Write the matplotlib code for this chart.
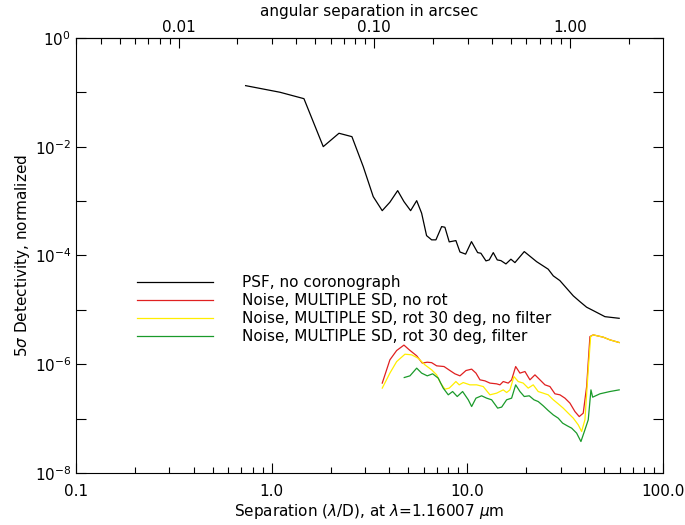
import matplotlib.pyplot as plt
import numpy as np
from matplotlib.ticker import FixedLocator, FuncFormatter, LogLocator, NullFormatter, FormatStrFormatter

# PSF, no coronograph
psf_sep = [0.736, 1.103, 1.462, 1.835, 2.208, 2.571, 2.938, 3.304, 3.673, 4.02,
           4.405, 4.743, 5.13, 5.51, 5.84, 6.19, 6.57, 6.91, 7.39, 7.68,
           8.08, 8.74, 9.17, 9.80, 10.5, 11.29, 11.73, 12.45, 12.94, 13.57,
           14.22, 14.85, 15.75, 16.70, 17.51, 19.54, 22.6, 25.9, 27.5, 29.7,
           34.8, 37.6, 40.7, 44.0, 50.5, 59.7]
psf_det = [0.133, 0.1005, 0.0766, 0.01005, 0.0177, 0.01534, 0.00431, 0.00121, 6.68e-4, 9.55e-4,
           1.56e-3, 9.8e-4, 6.68e-4, 1.02e-3, 6.0e-4, 2.32e-4, 1.94e-4, 1.94e-4, 3.40e-4, 3.31e-4,
           1.78e-4, 1.88e-4, 1.16e-4, 1.06e-4, 1.80e-4, 1.13e-4, 1.10e-4, 7.96e-5, 8.3e-5, 1.13e-4,
           8.3e-5, 8.05e-5, 7.0e-5, 8.55e-5, 7.4e-5, 1.18e-4, 7.7e-5, 5.6e-5, 4.22e-5, 3.46e-5,
           1.81e-5, 1.42e-5, 1.12e-5, 9.7e-6, 7.5e-6, 7.0e-6]

# Noise, MULTIPLE SD, no rot
red_sep = [3.674, 4.02, 4.353, 4.743, 5.05, 5.51, 5.885, 6.24, 6.57, 6.97,
           7.60, 8.15, 8.64, 9.17, 9.84, 10.52, 11.07, 11.60, 12.30, 13.05,
           14.12, 14.68, 15.26, 16.18, 16.84, 17.66, 18.57, 19.70, 20.89, 22.16,
           23.50, 24.93, 26.43, 28.04, 29.73, 31.54, 33.44, 35.47, 37.32, 39.11,
           40.71, 42.32, 43.99, 49.48, 53.54, 59.72]
red_det = [4.50e-7, 1.205e-6, 1.79e-6, 2.25e-6, 1.84e-6, 1.43e-6, 1.05e-6, 1.09e-6, 1.07e-6, 9.35e-7,
           9.08e-7, 7.66e-7, 6.67e-7, 6.12e-7, 7.66e-7, 8.13e-7, 6.87e-7, 5.17e-7, 4.95e-7, 4.50e-7,
           4.36e-7, 4.18e-7, 4.81e-7, 4.50e-7, 5.17e-7, 9.08e-7, 6.87e-7, 7.35e-7, 5.17e-7, 6.38e-7,
           5.17e-7, 4.18e-7, 3.89e-7, 2.86e-7, 2.74e-7, 2.38e-7, 1.93e-7, 1.35e-7, 1.09e-7, 1.26e-7,
           3.89e-7, 3.23e-6, 3.47e-6, 3.15e-6, 2.81e-6, 2.51e-6]

# Noise, MULTIPLE SD, rot 30 deg, no filter
yel_sep = [3.674, 4.02, 4.353, 4.80, 5.19, 5.61, 6.07, 6.57, 6.97, 7.30,
           7.68, 8.08, 8.41, 8.74, 9.09, 9.53, 10.31, 11.16, 12.06, 13.05,
           14.12, 15.26, 15.88, 16.51, 17.30, 18.20, 19.30, 20.47, 21.71, 23.03,
           24.43, 25.9, 27.5, 29.14, 30.90, 32.78, 34.8, 36.88, 38.38, 39.90,
           41.49, 42.68, 43.99, 49.48, 53.54, 59.72]
yel_det = [3.64e-7, 6.87e-7, 1.12e-6, 1.53e-6, 1.49e-6, 1.29e-6, 9.75e-7, 7.89e-7, 6.38e-7, 4.50e-7,
           3.48e-7, 3.64e-7, 4.18e-7, 4.81e-7, 4.18e-7, 4.61e-7, 4.18e-7, 4.18e-7, 3.89e-7, 2.74e-7,
           2.94e-7, 3.38e-7, 3.02e-7, 3.38e-7, 5.94e-7, 4.81e-7, 4.50e-7, 3.64e-7, 4.18e-7, 3.15e-7,
           2.94e-7, 2.74e-7, 2.22e-7, 1.87e-7, 1.56e-7, 1.26e-7, 1.02e-7, 7.69e-8, 5.80e-8, 9.51e-8,
           7.89e-7, 3.23e-6, 3.47e-6, 3.15e-6, 2.81e-6, 2.51e-6]

# Noise, MULTIPLE SD, rot 30 deg, filter
grn_sep = [4.76, 5.09, 5.51, 5.84, 6.24, 6.65, 7.10, 7.53, 7.99, 8.41,
           8.88, 9.46, 10.11, 10.52, 11.07, 11.83, 12.55, 13.31, 14.29, 14.98,
           15.88, 16.84, 17.66, 18.57, 19.54, 20.72, 21.90, 23.03, 24.43, 25.9,
           27.5, 29.14, 30.69, 32.40, 34.13, 36.19, 38.07, 39.90, 41.49, 42.83,
           43.70, 47.61, 53.54, 59.72]
grn_det = [5.70e-7, 6.12e-7, 8.48e-7, 6.87e-7, 6.12e-7, 6.67e-7, 5.55e-7, 3.64e-7, 2.74e-7, 3.15e-7,
           2.55e-7, 3.15e-7, 2.22e-7, 1.67e-7, 2.38e-7, 2.63e-7, 2.38e-7, 2.22e-7, 1.56e-7, 1.63e-7,
           2.22e-7, 2.38e-7, 4.18e-7, 3.15e-7, 2.55e-7, 2.63e-7, 2.22e-7, 2.06e-7, 1.72e-7, 1.41e-7,
           1.17e-7, 1.02e-7, 8.26e-8, 7.38e-8, 6.68e-8, 5.41e-8, 3.79e-8, 6.22e-8, 9.51e-8, 3.38e-7,
           2.48e-7, 2.86e-7, 3.15e-7, 3.38e-7]

labels = ["PSF, no coronograph",
          "Noise, MULTIPLE SD, no rot",
          "Noise, MULTIPLE SD, rot 30 deg, no filter",
          "Noise, MULTIPLE SD, rot 30 deg, filter"]

wavelength = 1.16007e-6  # m
diameter = 8.0  # m
lamd_arcsec = wavelength / diameter * 206264.8

plt.rcParams['font.family'] = ['DejaVu Sans']
plt.rcParams['mathtext.fontset'] = 'dejavusans'

fig = plt.figure(figsize=(6.85, 5.25), dpi=100)
ax = fig.add_axes([76 / 685, 1 - 473 / 525, 587 / 685, 435 / 525])

ax.plot(psf_sep, psf_det, color='black', lw=0.9, label=labels[0])
ax.plot(red_sep, red_det, color='#e02020', lw=0.9, label=labels[1])
ax.plot(yel_sep, yel_det, color='#ffee00', lw=0.9, label=labels[2])
ax.plot(grn_sep, grn_det, color='#1a9a2a', lw=0.9, label=labels[3])

ax.set_xscale('log')
ax.set_yscale('log')
ax.set_xlim(0.1, 100)
ax.set_ylim(1e-8, 1)

ax.xaxis.set_major_locator(FixedLocator([0.1, 1, 10, 100]))
ax.xaxis.set_major_formatter(FuncFormatter(lambda v, p: f"{v:.1f}"))
ax.xaxis.set_minor_locator(LogLocator(base=10, subs=np.arange(2, 10)))
ax.xaxis.set_minor_formatter(NullFormatter())

ax.yaxis.set_major_locator(FixedLocator([10.0 ** k for k in range(-8, 1)]))
ax.yaxis.set_major_formatter(FuncFormatter(
    lambda v, p: f"$10^{{{int(round(np.log10(v)))}}}$" if int(round(np.log10(v))) % 2 == 0 else ""))
ax.yaxis.set_minor_locator(FixedLocator([]))

ax.tick_params(which='both', direction='in', top=False, right=True, labelsize=11)
ax.tick_params(which='major', length=7, width=0.8)
ax.tick_params(which='minor', length=4, width=0.8)
ax.tick_params(axis='x', pad=8)

ax.set_xlabel(r"Separation ($\lambda$/D), at $\lambda$=1.16007 $\mu$m", fontsize=11, labelpad=2)
ax.set_ylabel(r"5$\sigma$ Detectivity, normalized", fontsize=11, labelpad=2)

sec = ax.secondary_xaxis('top', functions=(lambda x: x * lamd_arcsec, lambda a: a / lamd_arcsec))
sec.xaxis.set_major_locator(FixedLocator([0.01, 0.1, 1.0]))
sec.xaxis.set_major_formatter(FormatStrFormatter('%.2f'))
sec.xaxis.set_minor_locator(LogLocator(base=10, subs=np.arange(2, 10)))
sec.xaxis.set_minor_formatter(NullFormatter())
sec.tick_params(which='both', direction='in', labelsize=11, pad=2)
sec.tick_params(which='major', length=7, width=0.8)
sec.tick_params(which='minor', length=4, width=0.8)
sec.set_xlabel("angular separation in arcsec", fontsize=11, labelpad=3)

for s in ax.spines.values():
    s.set_linewidth(0.8)

ax.legend(loc='upper left', bbox_to_anchor=(61 / 587, (473 - 275) / 435), frameon=False,
          fontsize=11, handlelength=5.0, handletextpad=1.9, labelspacing=0.2,
          borderaxespad=0, borderpad=0)

fig.savefig('out.png', dpi=100)
